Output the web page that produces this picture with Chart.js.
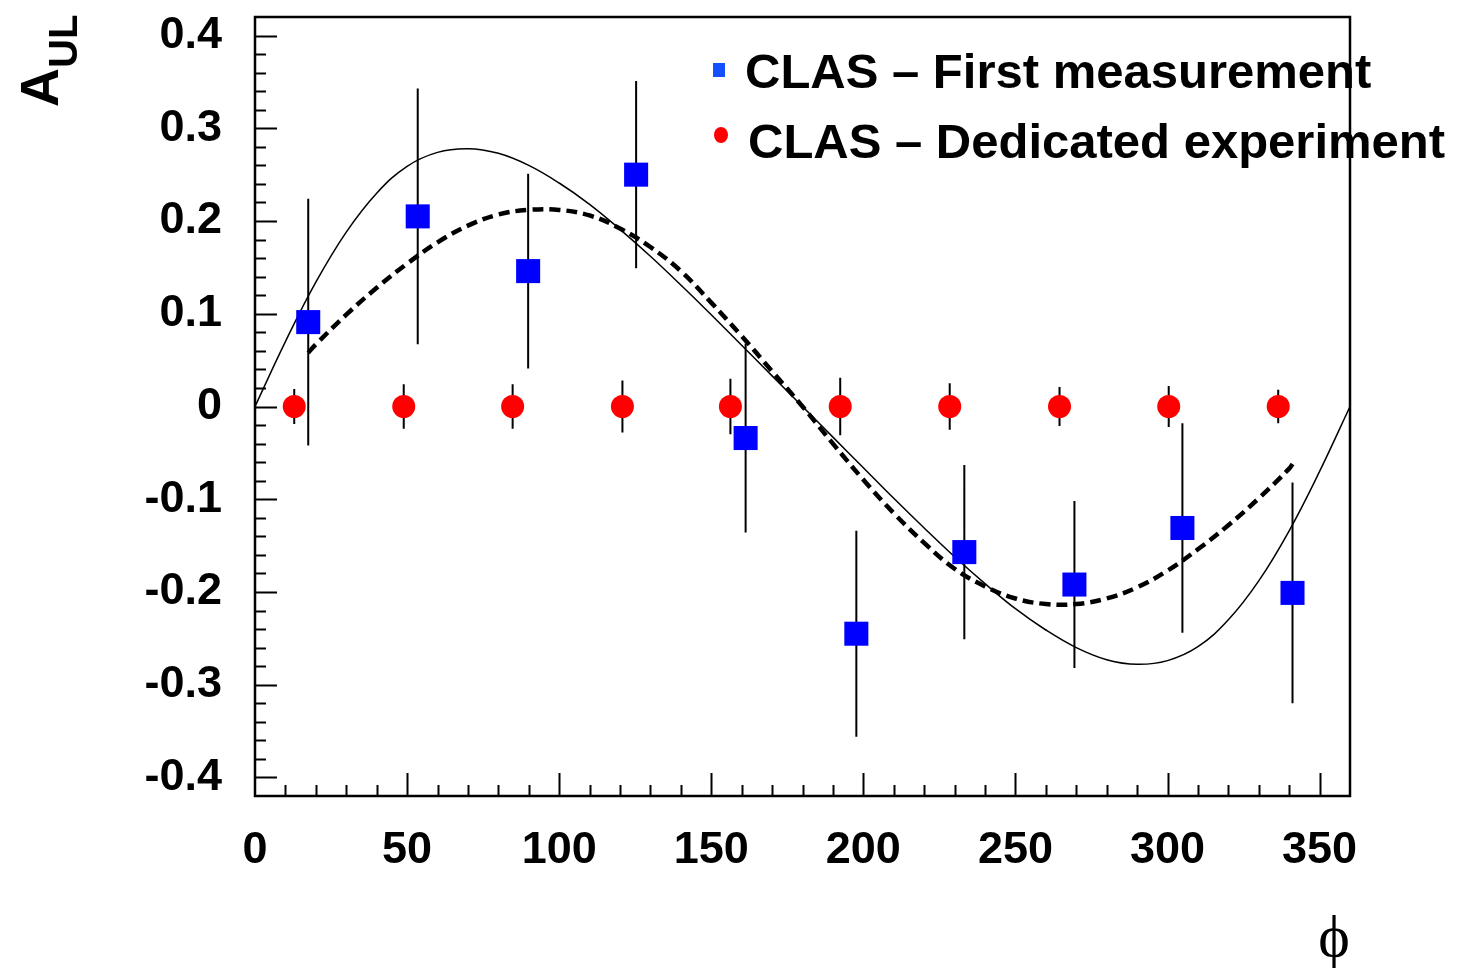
<!DOCTYPE html>
<html>
<head>
<meta charset="utf-8">
<script src="https://cdn.jsdelivr.net/npm/chart.js@4.4.1/dist/chart.umd.min.js"></script>
<style>
  html, body { margin: 0; padding: 0; background: #fff; }
  #wrap { position: relative; width: 1463px; height: 968px; }
</style>
</head>
<body>
<div id="wrap"><canvas id="aulChart"></canvas></div>
<script>
// tick labels
const xTicks = [0, 50, 100, 150, 200, 250, 300, 350];
const yTicks = [-0.4, -0.3, -0.2, -0.1, 0, 0.1, 0.2, 0.3, 0.4];

// CLAS - first measurement (blue squares)
const phiFirst = [17.5, 53.5, 89.8, 125.3, 161.3, 197.7, 233.2, 269.4, 304.9, 341.1];
const aulFirst = [0.091, 0.205, 0.146, 0.250, -0.034, -0.245, -0.157, -0.192, -0.131, -0.201];
const errFirst = [0.133, 0.138, 0.105, 0.101, 0.102, 0.111, 0.094, 0.090, 0.113, 0.119];

// CLAS - dedicated experiment (red dots)
const phiDed = [12.9, 48.9, 84.7, 120.8, 156.3, 192.4, 228.4, 264.5, 300.4, 336.4];
const aulDed = [0, 0, 0, 0, 0, 0, 0, 0, 0, 0];
const errDed = [0.019, 0.024, 0.024, 0.028, 0.030, 0.031, 0.025, 0.021, 0.022, 0.018];

// thin solid curve
const phiSolid = [0, 10, 20, 30, 40, 50, 60, 70, 80, 90, 100, 110, 120, 130, 140, 150, 160, 170, 180,
                  190, 200, 210, 220, 230, 240, 250, 260, 270, 280, 290, 300, 310, 320, 330, 340, 350, 360];
const aulSolid = [0, 0.070, 0.134, 0.188, 0.230, 0.259, 0.274, 0.278, 0.273, 0.260, 0.241, 0.218, 0.191,
                  0.162, 0.131, 0.099, 0.066, 0.033, 0, -0.033, -0.066, -0.099, -0.131, -0.162, -0.191,
                  -0.218, -0.241, -0.260, -0.273, -0.278, -0.274, -0.259, -0.230, -0.188, -0.134, -0.070, 0];

// thick dashed curve
const phiDashed = [17.5, 20, 30, 40, 50, 60, 70, 80, 90, 100, 110, 120, 130, 140, 150, 160, 170, 180,
                   190, 200, 210, 220, 230, 240, 250, 260, 270, 280, 290, 300, 310, 320, 330, 340, 341.5];
const aulDashed = [0.058, 0.067, 0.099, 0.128, 0.154, 0.177, 0.195, 0.207, 0.212, 0.212, 0.206, 0.192,
                   0.172, 0.146, 0.112, 0.076, 0.038, 0, -0.040, -0.079, -0.115, -0.147, -0.175, -0.194,
                   -0.207, -0.213, -0.213, -0.207, -0.195, -0.177, -0.154, -0.128, -0.099, -0.067, -0.060];

const FONT = '"Liberation Sans", Arial, Helvetica, sans-serif';
const toXY = (xs, ys) => xs.map((x, i) => ({ x: x, y: ys[i] }));

// vertical error bars, drawn under the markers
const errorBars = {
    id: 'errorBars',
    beforeDatasetsDraw(chart) {
        const { ctx, scales: { x, y } } = chart;
        ctx.save();
        ctx.strokeStyle = '#000';
        ctx.lineWidth = 2;
        ctx.beginPath();
        chart.data.datasets.forEach(ds => {
            if (!ds.errors) return;
            ds.data.forEach((p, i) => {
                const px = x.getPixelForValue(p.x);
                ctx.moveTo(px, y.getPixelForValue(p.y + ds.errors[i]));
                ctx.lineTo(px, y.getPixelForValue(p.y - ds.errors[i]));
            });
        });
        ctx.stroke();
        ctx.restore();
    }
};

// ROOT style frame with inward ticks
const frame = {
    id: 'frame',
    afterDatasetsDraw(chart) {
        const { ctx, chartArea: a, scales: { x, y } } = chart;
        ctx.save();
        ctx.strokeStyle = '#000';
        ctx.lineWidth = 2;
        ctx.beginPath();
        for (let v = 10; v < 360; v += 10) {
            const px = Math.round(x.getPixelForValue(v)) + 0.5;
            const len = v % 50 === 0 ? 23 : 11;
            ctx.moveTo(px, a.bottom);
            ctx.lineTo(px, a.bottom - len);
        }
        for (let k = -20; k <= 20; k++) {
            const py = Math.round(y.getPixelForValue(k * 0.02)) + 0.5;
            const len = k % 5 === 0 ? 22 : 11;
            ctx.moveTo(a.left, py);
            ctx.lineTo(a.left + len, py);
        }
        ctx.stroke();
        ctx.lineWidth = 2.5;
        ctx.strokeRect(a.left, a.top, a.right - a.left, a.bottom - a.top);
        ctx.restore();
    }
};

// legend, axis titles
const labels = {
    id: 'labels',
    afterDraw(chart) {
        const { ctx } = chart;
        ctx.save();
        ctx.fillStyle = '#000';
        ctx.textBaseline = 'alphabetic';
        ctx.textAlign = 'left';

        // legend
        ctx.font = 'bold 49px ' + FONT;
        ctx.fillStyle = '#1450ff';
        ctx.fillRect(713, 63, 12, 14);
        ctx.fillStyle = '#000';
        ctx.fillText('CLAS \u2013 First measurement', 745, 88);
        ctx.fillStyle = '#ff0000';
        ctx.beginPath();
        ctx.ellipse(721, 135, 7, 8, 0, 0, Math.PI * 2);
        ctx.fill();
        ctx.fillStyle = '#000';
        ctx.fillText('CLAS \u2013 Dedicated experiment', 748, 158);

        // y title A_UL
        ctx.save();
        ctx.translate(58, 107);
        ctx.rotate(-Math.PI / 2);
        ctx.font = 'bold 54px ' + FONT;
        ctx.fillText('A', 0, 0);
        const w = ctx.measureText('A').width;
        ctx.font = 'bold 40px ' + FONT;
        ctx.fillText('UL', w, 19);
        ctx.restore();

        // x title
        ctx.font = '60px "Liberation Serif", "DejaVu Serif", serif';
        ctx.textAlign = 'center';
        ctx.fillText('\u03d5', 1334, 956);
        ctx.restore();
    }
};

const ctx = document.getElementById('aulChart').getContext('2d');

new Chart(ctx, {
    type: 'scatter',
    data: {
        datasets: [
            {
                label: 'CLAS \u2013 First measurement',
                data: toXY(phiFirst, aulFirst),
                errors: errFirst,
                pointStyle: 'rect',
                pointRadius: 17,
                backgroundColor: '#0000ff',
                borderColor: '#0000ff',
                borderWidth: 0,
                order: 0
            },
            {
                label: 'CLAS \u2013 Dedicated experiment',
                data: toXY(phiDed, aulDed),
                errors: errDed,
                pointStyle: 'circle',
                pointRadius: 11.5,
                backgroundColor: '#ff0000',
                borderColor: '#ff0000',
                borderWidth: 0,
                order: 0
            },
            {
                label: 'solid',
                data: toXY(phiSolid, aulSolid),
                showLine: true,
                borderColor: '#000',
                borderWidth: 1.5,
                pointRadius: 0,
                tension: 0.4,
                order: 2
            },
            {
                label: 'dashed',
                data: toXY(phiDashed, aulDashed),
                showLine: true,
                borderColor: '#000',
                borderWidth: 4.5,
                borderDash: [11, 6],
                pointRadius: 0,
                tension: 0.4,
                order: 1
            }
        ]
    },
    options: {
        responsive: true,
        maintainAspectRatio: false,
        animation: false,
        layout: { padding: { top: 12, right: 113, left: 0, bottom: 0 } },
        plugins: {
            legend: { display: false },
            tooltip: { enabled: false }
        },
        scales: {
            x: {
                type: 'linear',
                min: 0,
                max: 360,
                afterBuildTicks: s => { s.ticks = xTicks.map(v => ({ value: v })); },
                afterFit: s => {
                    s.height = 172;
                    s.paddingLeft = 0; s.paddingRight = 0; s.paddingTop = 0; s.paddingBottom = 0;
                },
                grid: { display: false, drawTicks: false },
                border: { display: false },
                ticks: {
                    color: '#000',
                    padding: 28,
                    maxRotation: 0,
                    autoSkip: false,
                    font: { family: FONT, size: 45, weight: 'bold' }
                }
            },
            y: {
                type: 'linear',
                min: -0.42,
                max: 0.42,
                afterBuildTicks: s => { s.ticks = yTicks.map(v => ({ value: v })); },
                afterFit: s => {
                    s.width = 255;
                    s.paddingLeft = 0; s.paddingRight = 0; s.paddingTop = 0; s.paddingBottom = 0;
                },
                grid: { display: false, drawTicks: false },
                border: { display: false },
                ticks: {
                    color: '#000',
                    padding: 33,
                    autoSkip: false,
                    callback: v => (Math.abs(v) < 1e-9 ? '0' : v.toFixed(1)),
                    font: { family: FONT, size: 45, weight: 'bold', lineHeight: 0.4 }
                }
            }
        }
    },
    plugins: [errorBars, frame, labels]
});
</script>
</body>
</html>
